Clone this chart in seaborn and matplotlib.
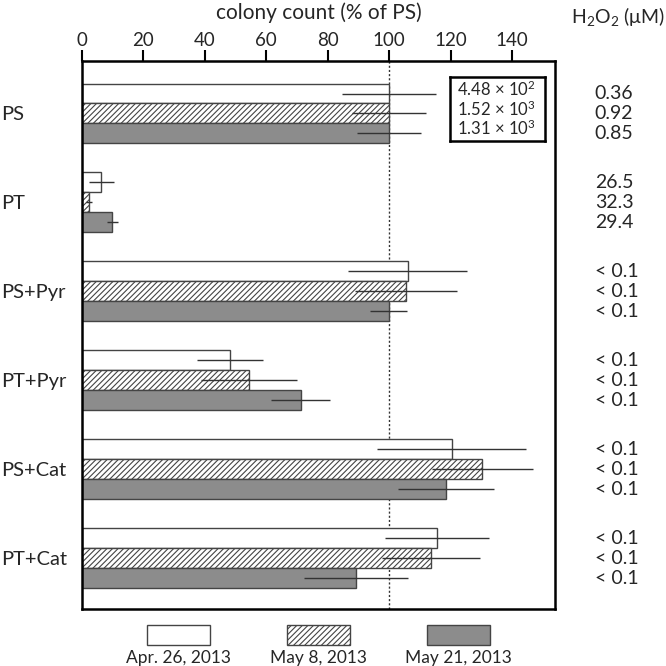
import numpy as np
import pandas as pd
import matplotlib
matplotlib.use("Agg")
import matplotlib.pyplot as plt
import matplotlib.transforms as mtransforms
from matplotlib.patches import Rectangle
import seaborn as sns

# --- data ---
treatments = ["PS", "PT", "PS+Pyr", "PT+Pyr", "PS+Cat", "PT+Cat"]
dates = ["Apr. 26, 2013", "May 8, 2013", "May 21, 2013"]

apr26 = [100, 6.3, 106.0, 48.2, 120.4, 115.7]
may8 = [100, 2.2, 105.4, 54.4, 130.4, 113.6]
may21 = [100, 9.9, 99.8, 71.2, 118.5, 89.2]

apr26_err = [15.3, 4.0, 19.5, 10.8, 24.3, 16.9]
may8_err = [12.0, 1.0, 16.6, 15.5, 16.6, 16.0]
may21_err = [10.5, 1.7, 6.0, 9.7, 15.5, 17.0]

h2o2 = [["0.36", "0.92", "0.85"],
        ["26.5", "32.3", "29.4"],
        ["< 0.1", "< 0.1", "< 0.1"],
        ["< 0.1", "< 0.1", "< 0.1"],
        ["< 0.1", "< 0.1", "< 0.1"],
        ["< 0.1", "< 0.1", "< 0.1"]]

ps_counts = ["4.48 × 10$^{2}$", "1.52 × 10$^{3}$", "1.31 × 10$^{3}$"]

fills = ["white", "white", "#8c8c8c"]
hatches = [None, "//////", None]

df = pd.DataFrame({
    "treatment": treatments * 3,
    "date": np.repeat(dates, len(treatments)),
    "value": apr26 + may8 + may21,
})
errs = [apr26_err, may8_err, may21_err]

sns.set_style("white")
plt.rcParams["font.family"] = ["Lato", "DejaVu Sans"]
plt.rcParams["mathtext.fontset"] = "custom"
plt.rcParams["mathtext.rm"] = "Lato"
plt.rcParams["mathtext.it"] = "Lato:italic"
plt.rcParams["hatch.color"] = "#555555"
plt.rcParams["hatch.linewidth"] = 0.8

fig = plt.figure(figsize=(6.66, 6.66), dpi=100)
ax = fig.add_axes([0.1231, 0.0856, 0.7102, 0.8228])

sns.barplot(data=df, x="value", y="treatment", hue="date", orient="h",
            order=treatments, hue_order=dates, width=0.674,
            errorbar=None, legend=False, ax=ax)

bar_groups = list(ax.containers)
centers = []
for i, cont in enumerate(bar_groups):
    ys = []
    for p in cont.patches:
        p.set_facecolor(fills[i])
        p.set_edgecolor("#444444")
        p.set_linewidth(1.0)
        if hatches[i]:
            p.set_hatch(hatches[i])
        ys.append(p.get_y() + p.get_height() / 2)
    centers.append(ys)
    vals = [p.get_width() for p in cont.patches]
    ax.errorbar(vals, ys, xerr=errs[i], fmt="none", ecolor="#333333",
                elinewidth=1.0, capsize=0, zorder=5)

ax.axvline(100, color="#333333", linestyle=(0, (1.5, 1.5)), linewidth=1.0, zorder=0)

ax.set_xlim(0, 154)
ax.set_ylim(5.57, -0.59)
ax.xaxis.set_ticks_position("top")
ax.xaxis.set_label_position("top")
ax.set_xticks(np.arange(0, 141, 20))
ax.tick_params(axis="x", direction="out", length=8, width=1.5, labelsize=13.5, pad=1, color="black")
ax.set_xlabel("colony count (% of PS)", fontsize=15, va="center")
ax.xaxis.set_label_coords(0.5, 1 + (61 - 13) / 548)
ax.set_ylabel("")
ax.set_yticks(range(len(treatments)))
ax.set_yticklabels(treatments, ha="left")
ax.tick_params(axis="y", length=0, pad=58, labelsize=14.5)
for s in ax.spines.values():
    s.set_visible(True)
    s.set_color("black")
    s.set_linewidth(1.8)

# H2O2 column
trans = mtransforms.blended_transform_factory(fig.transFigure, ax.transData)
for i, ys in enumerate(centers):
    for j, y in enumerate(ys):
        ax.text(0.893, y, h2o2[j][i], transform=trans,
                ha="left", va="center", fontsize=14, clip_on=False)
fig.text(0.928, 1 - 16 / 666, "H$_2$O$_2$ (μM)", ha="center", va="center", fontsize=14)

# PS colony counts inset box
box_ax = fig.add_axes([450 / 666, 1 - 141 / 666, 95 / 666, 64 / 666])
box_ax.set_xticks([])
box_ax.set_yticks([])
for s in box_ax.spines.values():
    s.set_linewidth(1.8)
    s.set_color("black")
for k, t in enumerate(ps_counts):
    box_ax.text(0.07, 0.8 - k * 0.3, t, transform=box_ax.transAxes,
                ha="left", va="center", fontsize=12)

# legend below
leg_ax = fig.add_axes([0, 0, 1, 0.08])
leg_ax.set_xlim(0, 666)
leg_ax.set_ylim(53.28, 0)
leg_ax.axis("off")
for k, (x0, lab) in enumerate(zip([147, 287, 427], dates)):
    leg_ax.add_patch(Rectangle((x0, 25 - 12.7), 63, 20, facecolor=fills[k],
                               edgecolor="#444444", linewidth=1.0, hatch=hatches[k]))
    leg_ax.text(x0 + 31.5, 57 - 12.7 + 1, lab, ha="center", va="center", fontsize=12.5)

fig.savefig("out.png", dpi=100)
